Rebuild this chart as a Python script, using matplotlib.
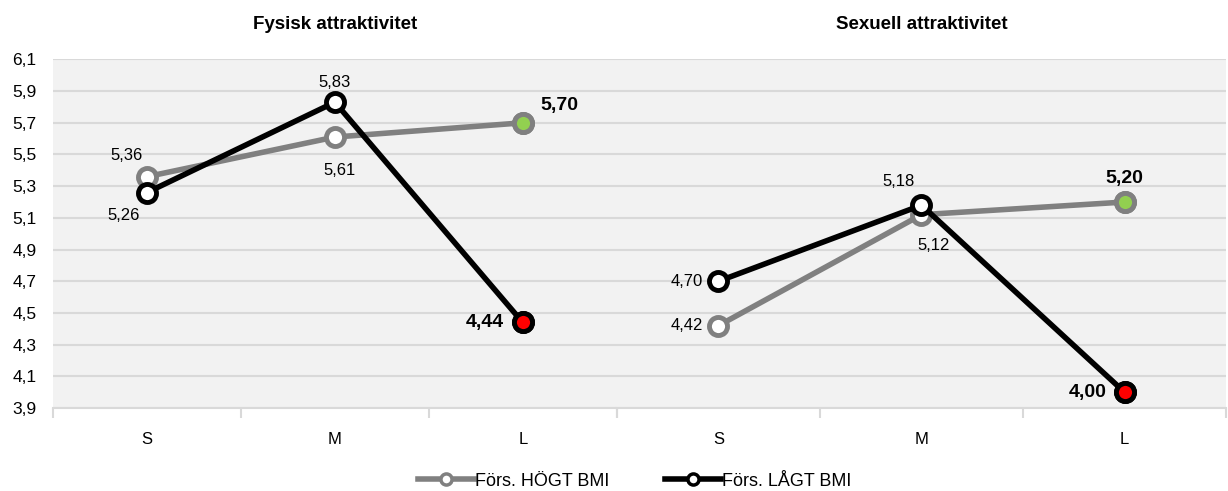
import matplotlib.pyplot as plt
from matplotlib.lines import Line2D

plt.rcParams['font.family'] = ['Liberation Sans', 'DejaVu Sans']

categories = ['S', 'M', 'L']
y_ticks = [3.9, 4.1, 4.3, 4.5, 4.7, 4.9, 5.1, 5.3, 5.5, 5.7, 5.9, 6.1]

fysisk_hogt = [5.36, 5.61, 5.70]
fysisk_lagt = [5.26, 5.83, 4.44]
sexuell_hogt = [4.42, 5.12, 5.20]
sexuell_lagt = [4.70, 5.18, 4.00]

titles = ['Fysisk attraktivitet', 'Sexuell attraktivitet']
series_names = ['Förs. HÖGT BMI', 'Förs. LÅGT BMI']

GREY = '#808080'
BLACK = '#000000'
BG = '#F2F2F2'
GRID = '#D9D9D9'


def fmt(v):
    return ('%.2f' % v).replace('.', ',')


def draw_panel(ax, hogt, lagt, title, offsets, show_y):
    x = range(len(categories))
    ax.set_facecolor(BG)
    ax.plot(x, hogt, color=GREY, lw=4, marker='o', ms=13, mfc='white',
            mec=GREY, mew=3.5, zorder=3, solid_capstyle='round')
    ax.plot(x, lagt, color=BLACK, lw=4, marker='o', ms=13, mfc='white',
            mec=BLACK, mew=3.5, zorder=4, solid_capstyle='round')
    # last points highlighted
    ax.plot(x[-1], hogt[-1], 'o', ms=13, mfc='#92D050', mec=GREY, mew=3.5, zorder=5)
    ax.plot(x[-1], lagt[-1], 'o', ms=13, mfc='#FF0000', mec=BLACK, mew=3.5, zorder=5)

    for series, offs in zip([hogt, lagt], offsets):
        for i, v in enumerate(series):
            dx, dy = offs[i]
            bold = i == len(series) - 1
            ax.annotate(fmt(v), (i, v), xytext=(dx, dy), textcoords='offset pixels',
                        ha='center', va='center',
                        fontsize=14 if bold else 12,
                        fontweight='bold' if bold else 'normal', zorder=6)

    ax.set_xlim(-0.5, 2.5)
    ax.set_ylim(3.9, 6.1)
    ax.set_yticks(y_ticks)
    ax.set_yticklabels([('%.1f' % t).replace('.', ',') for t in y_ticks])
    ax.yaxis.grid(True, color=GRID, lw=1.5)
    ax.set_axisbelow(True)
    for s in ['top', 'right', 'left']:
        ax.spines[s].set_visible(False)
    ax.spines['bottom'].set_color(GRID)
    ax.spines['bottom'].set_linewidth(1.5)
    ax.set_xticks(list(x))
    ax.set_xticklabels(categories, fontsize=12)
    ax.tick_params(axis='x', length=0, pad=17)
    ax.set_xticks([-0.5, 0.5, 1.5, 2.5], minor=True)
    ax.tick_params(axis='x', which='minor', length=7, color=GRID, width=1.5)
    ax.tick_params(axis='y', length=0, labelsize=12.5, pad=12)
    if not show_y:
        ax.tick_params(axis='y', labelleft=False)
    ax.set_title(title, fontsize=13.5, fontweight='bold', pad=22)


fig = plt.figure(figsize=(12.28, 4.91), dpi=100)
ax1 = fig.add_axes([0.0432, 0.169, 0.459, 0.710])
ax2 = fig.add_axes([0.5024, 0.169, 0.4960, 0.710])

draw_panel(ax1, fysisk_hogt, fysisk_lagt, titles[0],
           [[(-20, 21), (5, -33), (37, 17)], [(-23, -23), (0, 20), (-38, 0)]], True)
draw_panel(ax2, sexuell_hogt, sexuell_lagt, titles[1],
           [[(-32, 0), (12, -31), (0, 24)], [(-32, 0), (-23, 24), (-37, 0)]], False)

handles = [
    Line2D([], [], color=GREY, lw=4, marker='o', ms=8, mfc='white', mec=GREY, mew=2.5),
    Line2D([], [], color=BLACK, lw=4, marker='o', ms=8, mfc='white', mec=BLACK, mew=2.5),
]
fig.legend(handles, series_names, loc='center', bbox_to_anchor=(0.5167, 0.02), ncol=2,
           frameon=False, fontsize=13, handlelength=3.1, handletextpad=0.05,
           columnspacing=3.1)

fig.savefig('out.png', dpi=100)
